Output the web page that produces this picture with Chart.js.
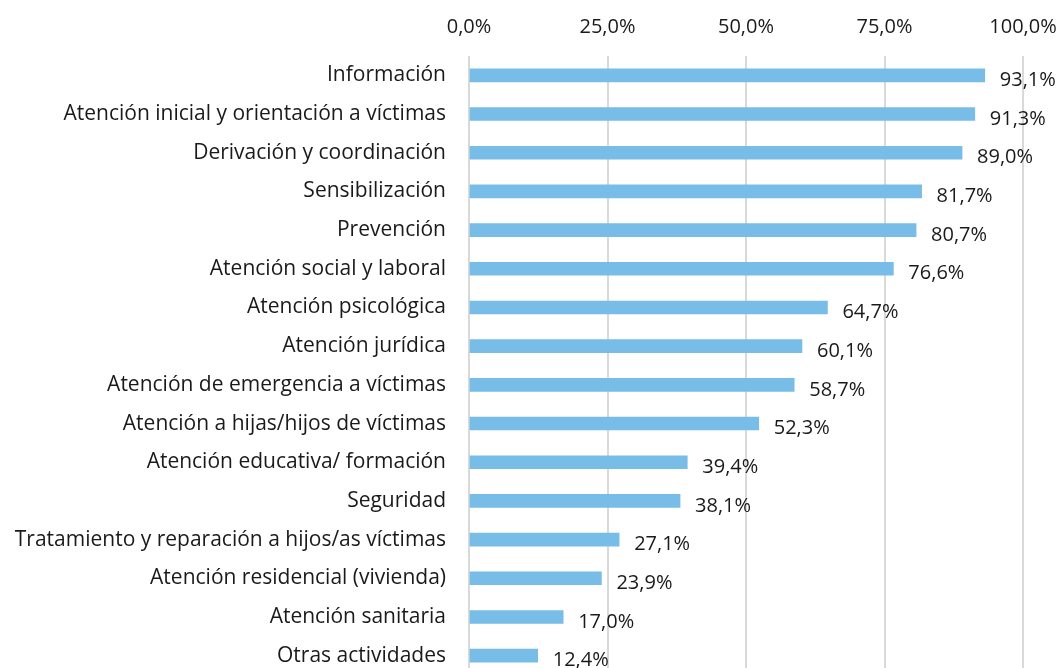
<!DOCTYPE html>
<html><head><meta charset="utf-8">
<script src="https://cdn.jsdelivr.net/npm/chart.js@4/dist/chart.umd.min.js"></script>
<style>html,body{margin:0;padding:0;overflow:hidden;background:#fff}canvas{display:block}</style>
</head><body><canvas id="c" width="1064" height="675" style="width:1064px;height:675px"></canvas>
<script>
const categories = ["Información","Atención inicial y orientación a víctimas","Derivación y coordinación","Sensibilización","Prevención","Atención social y laboral","Atención psicológica","Atención jurídica","Atención de emergencia a víctimas","Atención a hijas/hijos de víctimas","Atención educativa/ formación","Seguridad","Tratamiento y reparación a hijos/as víctimas","Atención residencial (vivienda)","Atención sanitaria","Otras actividades"];
const values = [93.1,91.3,89.0,81.7,80.7,76.6,64.7,60.1,58.7,52.3,39.4,38.1,27.1,23.9,17.0,12.4];
const tickValues = [0,25,50,75,100];

const FONT = "'Open Sans', sans-serif";
const fmt = v => v.toFixed(1).replace('.', ',') + '%';

const labelPlugin = {
  id: 'valLabels',
  afterDatasetsDraw(chart) {
    const ctx = chart.ctx;
    const meta = chart.getDatasetMeta(0);
    ctx.save();
    ctx.font = "20px " + FONT;
    ctx.fillStyle = '#1a1a1a';
    ctx.textAlign = 'left';
    ctx.textBaseline = 'middle';
    meta.data.forEach((bar, i) => {
      ctx.fillText(fmt(values[i]), bar.x + 15, bar.y + 5);
    });
    ctx.restore();
  }
};

new Chart(document.getElementById('c'), {
  type: 'bar',
  data: { labels: categories, datasets: [{ data: values, backgroundColor: '#77BDE8', borderWidth: 0, barThickness: 13 }] },
  options: {
    indexAxis: 'y',
    responsive: false, animation: false,
    layout: { padding: { left: 0, right: 41, top: 0, bottom: 0 } },
    plugins: { legend: { display: false }, tooltip: { enabled: false } },
    scales: {
      x: {
        position: 'top', min: 0, max: 100,
        afterBuildTicks: s => { s.ticks = tickValues.map(v => ({ value: v })); },
        afterFit: s => { s.height = 56; s.paddingLeft = 0; s.paddingRight = 0; },
        grid: { color: '#d9d9d9', lineWidth: 2, drawTicks: false },
        border: { display: false },
        ticks: { font: { family: FONT, size: 20 }, color: '#1a1a1a', padding: 17, callback: v => fmt(v) }
      },
      y: {
        afterFit: s => { s.width = 469; s.paddingTop = 0; s.paddingBottom = 0; },
        grid: { display: false, drawTicks: false },
        border: { display: false },
        ticks: { font: { family: FONT, size: 21 }, color: '#1a1a1a', padding: 23 }
      }
    }
  },
  plugins: [labelPlugin]
});
</script></body></html>
